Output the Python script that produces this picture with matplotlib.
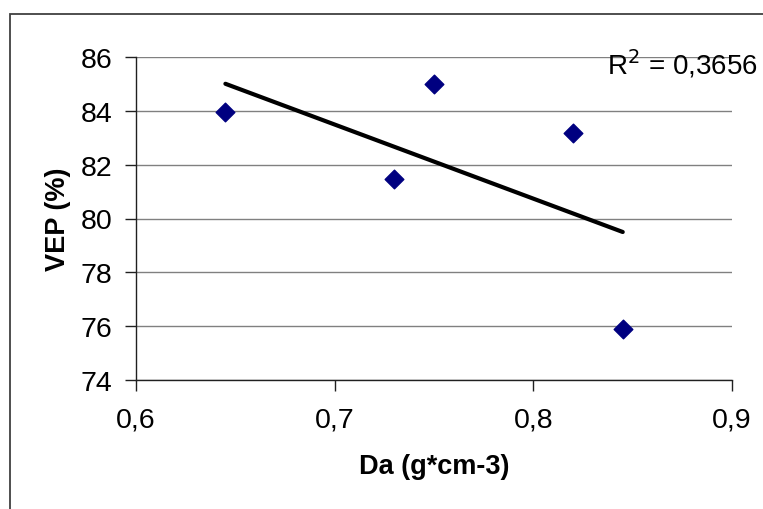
import numpy as np
import matplotlib
matplotlib.use("Agg")
import matplotlib.pyplot as plt
from matplotlib.patches import Rectangle
from matplotlib.ticker import FuncFormatter

plt.rcParams['font.family'] = ['Liberation Sans', 'DejaVu Sans']

# --------------------------------------------------------------------------
# Data
# --------------------------------------------------------------------------
da = [0.645, 0.730, 0.750, 0.820, 0.845]     # Da (g*cm-3)
vep = [83.95, 81.47, 85.00, 83.16, 75.89]    # VEP (%)
r2_label = "R$^2$ = 0,3656"
x_ticks = [0.6, 0.7, 0.8, 0.9]
y_ticks = [74, 76, 78, 80, 82, 84, 86]

W, H = 763, 510
fig = plt.figure(figsize=(W / 100, H / 100), dpi=100)

# outer chart frame (runs off the right and bottom of the picture)
fig.patches.append(Rectangle((10 / W, -0.1), 1.2, 1 - 15 / H + 0.1,
                             transform=fig.transFigure, fill=False,
                             edgecolor='#404040', linewidth=1.3))

ax = fig.add_axes([136 / W, 1 - 381 / H, (732 - 136) / W, (381 - 58) / H])

ax.scatter(da, vep, marker='D', s=90, color='#000080', zorder=3)

# linear trend line across the data range
slope, icpt = np.polyfit(da, vep, 1)
xs = np.array([min(da), max(da)])
ax.plot(xs, slope * xs + icpt, color='black', linewidth=3.0,
        solid_capstyle='round', zorder=2)

ax.set_xlim(0.6, 0.9)
ax.set_ylim(74, 86)
ax.set_xticks(x_ticks)
ax.set_yticks(y_ticks)
ax.xaxis.set_major_formatter(FuncFormatter(lambda v, p: f"{v:.1f}".replace('.', ',')))
ax.yaxis.set_major_formatter(FuncFormatter(lambda v, p: f"{v:.0f}"))

ax.grid(axis='y', color='#808080', linewidth=1.0)
ax.set_axisbelow(True)
for side in ('top', 'right'):
    ax.spines[side].set_visible(False)
for side in ('left', 'bottom'):
    ax.spines[side].set_color('#202020')
    ax.spines[side].set_linewidth(1.0)
ax.tick_params(direction='out', length=8, width=1, color='#202020',
               labelsize=20.5, pad=9)
ax.tick_params(axis='x', pad=11)

ax.set_xlabel("Da (g*cm-3)", fontsize=19.5, fontweight='bold', labelpad=15)
ax.set_ylabel("VEP (%)", fontsize=19.5, fontweight='bold', labelpad=7)

fig.text(607 / W, 1 - 74 / H, r2_label, fontsize=20, ha='left', va='baseline')

fig.savefig("out.png", dpi=100)
